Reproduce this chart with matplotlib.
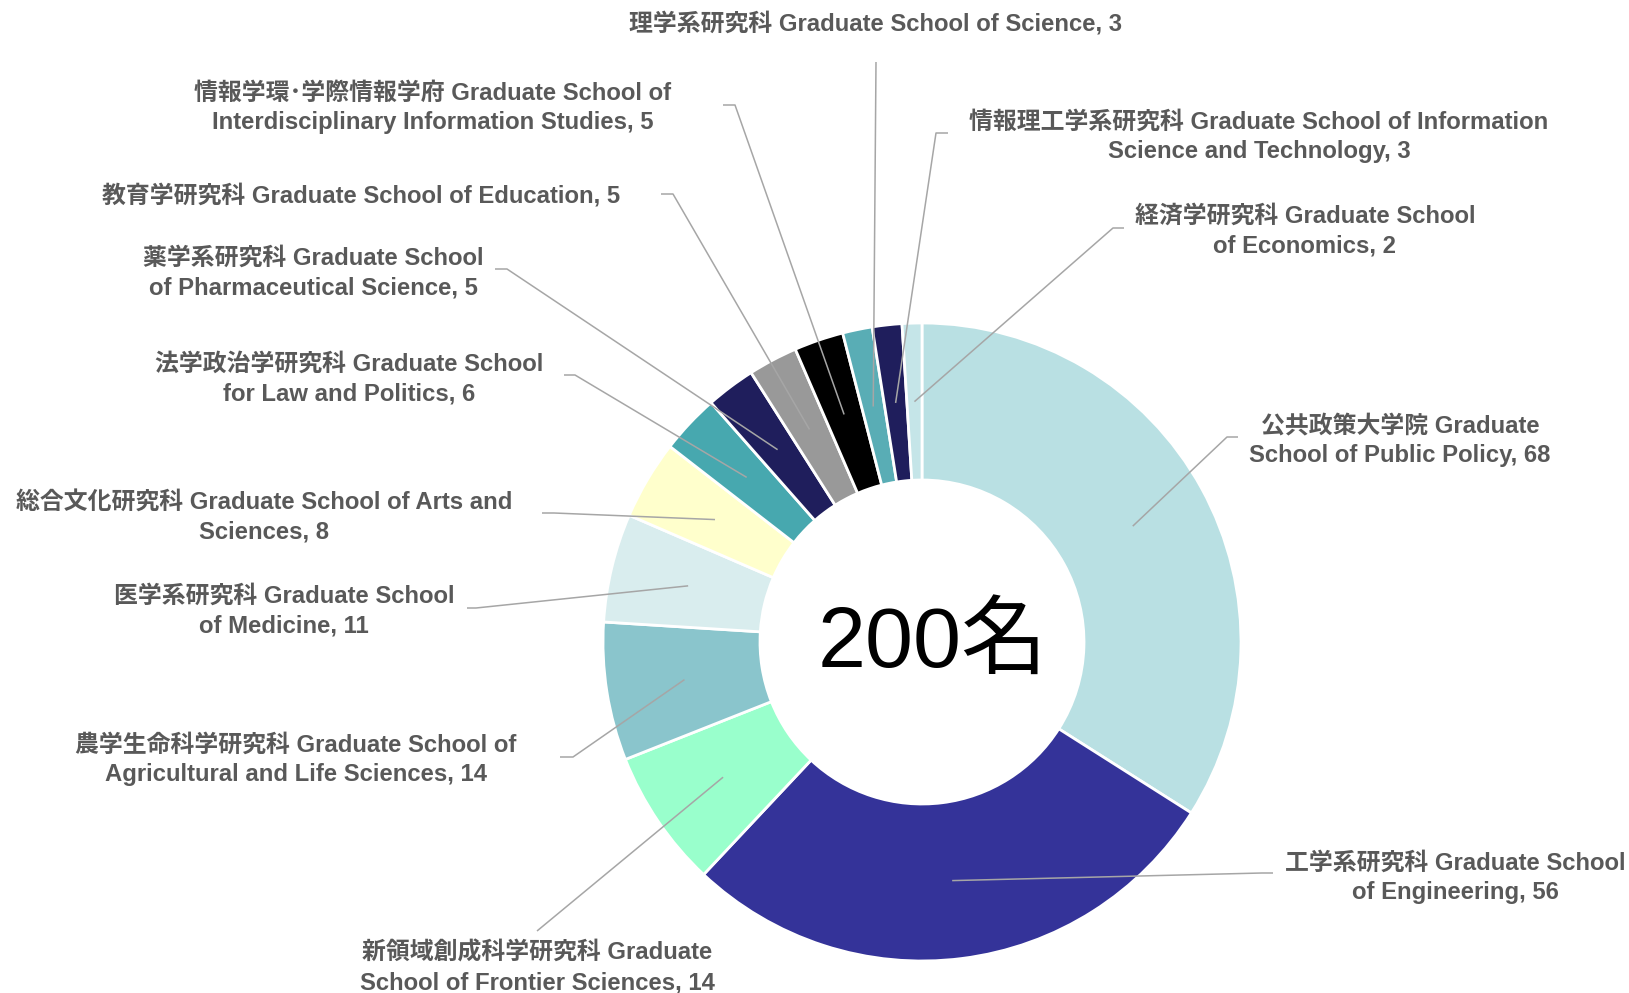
import matplotlib
matplotlib.use("Agg")
import matplotlib.pyplot as plt
import numpy as np

W, H = 1629, 993

# data
schools = [
    "公共政策大学院 Graduate\nSchool of Public Policy",
    "工学系研究科 Graduate School\nof Engineering",
    "新領域創成科学研究科 Graduate\nSchool of Frontier Sciences",
    "農学生命科学研究科 Graduate School of\nAgricultural and Life Sciences",
    "医学系研究科 Graduate School\nof Medicine",
    "総合文化研究科 Graduate School of Arts and\nSciences",
    "法学政治学研究科 Graduate School\nfor Law and Politics",
    "薬学系研究科 Graduate School\nof Pharmaceutical Science",
    "教育学研究科 Graduate School of Education",
    "情報学環･学際情報学府 Graduate School of\nInterdisciplinary Information Studies",
    "理学系研究科 Graduate School of Science",
    "情報理工学系研究科 Graduate School of Information\nScience and Technology",
    "経済学研究科 Graduate School\nof Economics",
]
counts = [68, 56, 14, 14, 11, 8, 6, 5, 5, 5, 3, 3, 2]
colors = ["#B9E0E3", "#343399", "#99FFCC", "#8AC5CC", "#D9EDEE", "#FFFFCC",
          "#47A8AF", "#1F1E5C", "#999999", "#000000", "#59ADB5", "#1F1E5C",
          "#C5E5E8"]
center_text = "200名"

# layout (pixels from top-left): label centre, leader end, elbow
label_xy = [(1400, 441), (1455, 878), (537, 968), (296, 760), (284, 611),
            (264, 517), (349, 379), (313, 273), (361, 196), (433, 108),
            (876, 24), (1259, 137), (1305, 231)]
leader_end = [(1238, 437), (1273, 873), (537, 931), (560, 757), (467, 608),
              (542, 513), (564, 375), (495, 269), (661, 194), (723, 105),
              (876, 62), (948, 133), (1124, 228)]
leader_elbow = [(1227, 437), (1262, 873), (537, 931), (573, 757), (476, 608),
                (554, 513), (575, 375), (507, 269), (673, 194), (735, 105),
                (876, 62), (936, 133), (1113, 228)]

cx, cy = 922, H - 642
r_out, r_in = 319, 162

fig = plt.figure(figsize=(W / 100, H / 100), dpi=100)
ax = fig.add_axes([0, 0, 1, 1])
wedges, _ = ax.pie(counts, colors=colors, startangle=90, counterclock=False,
                   radius=r_out, center=(cx, cy),
                   wedgeprops=dict(width=r_out - r_in, edgecolor="white", linewidth=2))
ax.set_xlim(0, W)
ax.set_ylim(0, H)
ax.set_aspect("equal")
ax.axis("off")

fam = ["Liberation Sans", "Noto Sans CJK JP"]
r_mid = (r_out + r_in) / 2
for w, name, n, (tx, ty), (ex, ey), (bx, by) in zip(
        wedges, schools, counts, label_xy, leader_end, leader_elbow):
    a = np.deg2rad((w.theta1 + w.theta2) / 2)
    sx, sy = cx + r_mid * np.cos(a), cy + r_mid * np.sin(a)
    ax.plot([sx, bx, ex], [sy, H - by, H - ey], color="#A6A6A6", lw=1.1,
            solid_capstyle="butt", zorder=3)
    ax.text(tx, H - ty, f"{name}, {n}", ha="center", va="center",
            multialignment="center", fontsize=17.2, fontweight="bold",
            color="#595959", family=fam, linespacing=1.38)

ax.text(933, H - 667, center_text, ha="center", va="baseline", fontsize=62,
        color="black", family=["Liberation Sans", "Noto Sans CJK JP"])

fig.savefig("out.png", dpi=100)
